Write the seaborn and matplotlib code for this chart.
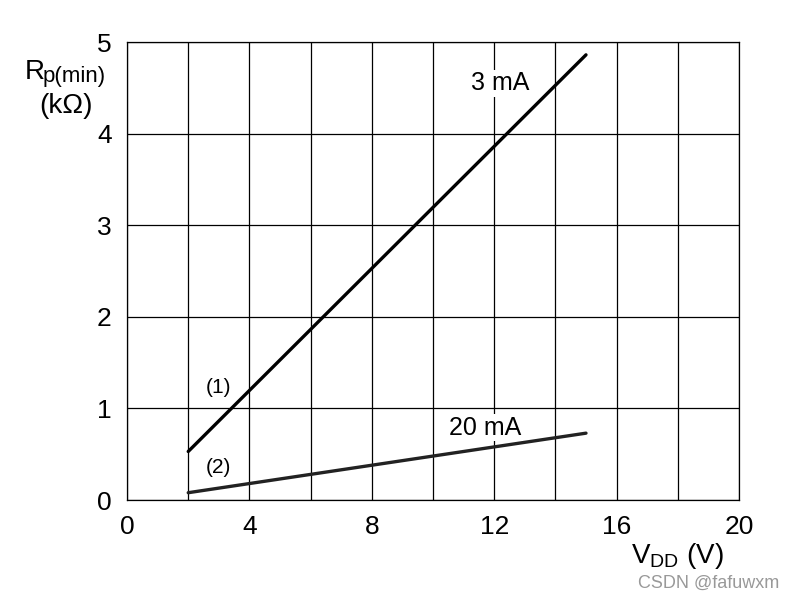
import numpy as np
import pandas as pd
import matplotlib
matplotlib.use("Agg")
import matplotlib.pyplot as plt
import seaborn as sns

# values
vdd = [2, 15]
rp_3ma = [0.53, 4.86]
rp_20ma = [0.08, 0.73]
x_ticks = [0, 4, 8, 12, 16, 20]
y_ticks = [0, 1, 2, 3, 4, 5]

df = pd.DataFrame({
    "VDD": vdd + vdd,
    "Rp": rp_3ma + rp_20ma,
    "curve": ["3 mA"] * len(vdd) + ["20 mA"] * len(vdd),
})

sns.set_style("white")
plt.rcParams["font.family"] = ["Liberation Sans", "DejaVu Sans"]
plt.rcParams["mathtext.fontset"] = "custom"
plt.rcParams["mathtext.rm"] = "Liberation Sans"
plt.rcParams["text.color"] = "black"
plt.rcParams["xtick.color"] = "black"
plt.rcParams["ytick.color"] = "black"

fig = plt.figure(figsize=(7.94, 6.01), dpi=100)
ax = fig.add_axes([0.16, 0.168, 0.7707, 0.7621])

sns.lineplot(data=df, x="VDD", y="Rp", hue="curve", palette=["black", "#222222"],
             linewidth=2.4, legend=False, ax=ax, zorder=3)

ax.set_xlim(0, 20)
ax.set_ylim(0, 5)
ax.set_xticks(np.arange(0, 21, 2), minor=True)
ax.set_xticks(x_ticks)
ax.set_yticks(y_ticks)
ax.grid(True, which="both", color="black", linewidth=0.9)
ax.tick_params(length=0, labelsize=19, pad=11, labelcolor="black")
for s in ax.spines.values():
    s.set_color("black")
    s.set_linewidth(0.9)
ax.set_xlabel("")
ax.set_ylabel("")

bb = dict(facecolor="white", edgecolor="none", pad=1)
ax.text(12.2, 4.55, "3 mA", fontsize=18, ha="center", va="center", bbox=bb, zorder=4)
ax.text(11.7, 0.79, "20 mA", fontsize=18, ha="center", va="center", bbox=bb, zorder=4)
ax.text(3.0, 1.23, "(1)", fontsize=15, ha="center", va="center", zorder=4)
ax.text(3.0, 0.36, "(2)", fontsize=15, ha="center", va="center", zorder=4)

# y label: R with subscript p(min), then (kΩ)
fig.text(0.031, 0.869, "R", fontsize=20, ha="left", va="baseline")
fig.text(0.053, 0.863, "p(min)", fontsize=16, ha="left", va="baseline")
fig.text(0.05, 0.824, "(kΩ)", fontsize=20, ha="left", va="center")
fig.text(0.853, 0.075, r"$\mathregular{V_{DD}}$ (V)", fontsize=20, ha="center", va="center")
fig.text(0.892, 0.03, "CSDN @fafuwxm", fontsize=13, color="#999999", ha="center", va="center")

fig.savefig("out.png", dpi=100)
